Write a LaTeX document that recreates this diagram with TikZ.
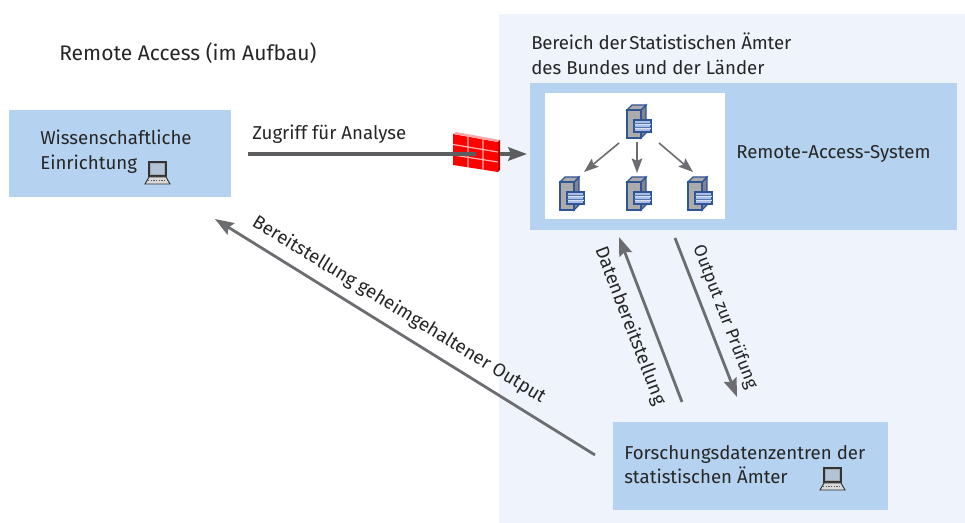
\documentclass[tikz,border=0pt]{standalone}
\usepackage{fontspec}
\setmainfont{Fira Sans}[Scale=1]
\usetikzlibrary{arrows.meta}
\definecolor{panel}{HTML}{EEF3FC}
\definecolor{boxblue}{HTML}{B5D3F0}
\definecolor{arrowgray}{HTML}{6B6D70}
\definecolor{srvgray}{HTML}{ABABAB}
\definecolor{srvdark}{HTML}{7F8490}
\definecolor{srvline}{HTML}{2F5597}
\definecolor{dbblue}{HTML}{A9BFE6}
\tikzset{
  x=0.75pt,y=-0.75pt,
  txt/.style={font=\fontsize{14}{18.5}\selectfont,text=black!85,inner sep=0pt},
  txtl/.style={txt,anchor=west,align=left},
  boxnode/.style={fill=boxblue,draw=none,inner sep=0pt,anchor=north west},
  flow/.style={draw=arrowgray,line width=2.1pt,-{Stealth[length=14pt,width=10pt,inset=2pt]}},
  small/.style={draw=arrowgray,line width=1.2pt,-{Stealth[length=11pt,width=8pt,inset=2pt]}},
  server/.pic={
    \filldraw[fill=srvdark,draw=srvline,line width=0.8pt] (14,5)--(19,0)--(19,28)--(14,33)--cycle;
    \filldraw[fill=srvgray,draw=srvline,line width=0.8pt] (0,5)--(5,0)--(19,0)--(14,5)--cycle;
    \filldraw[fill=srvgray,draw=srvline,line width=0.8pt] (0,5) rectangle (14,33);
    \filldraw[fill=dbblue,draw=srvline,line width=0.9pt] (7,15) rectangle (24,27);
    \draw[white!55!dbblue,line width=1.1pt] (7.5,19.2) -- (23.5,19.2) (7.5,23.2) -- (23.5,23.2);
    \draw[srvline!70!dbblue,line width=0.5pt] (7,18) -- (24,18) (7,22) -- (24,22);
  },
  laptop/.pic={
    \filldraw[fill=srvdark!70!white,draw=black!80,line width=0.8pt] (3,0) rectangle (20,14);
    \fill[boxblue!60!srvgray] (5,2) rectangle (18,12);
    \filldraw[fill=white!85!black,draw=black!80,line width=0.7pt] (3,15)--(20,15)--(24,22)--(-1,22)--cycle;
    \draw[black!65,line width=1pt,densely dotted] (2,18.5)--(21,18.5);
  }
}
\begin{document}
\begin{tikzpicture}
\useasboundingbox (0,0) rectangle (965,523);
\fill[white] (0,0) rectangle (965,523);
\node[boxnode,fill=panel,minimum width=349.5pt,minimum height=381.75pt] (panelbg) at (499,14) {};
\node[boxnode,minimum width=320.25pt,minimum height=110.25pt] (rasbox) at (530,83) {};
\node[boxnode,fill=white,minimum width=135pt,minimum height=94.5pt] (whitebox) at (545,93) {};
\node[boxnode,minimum width=166.5pt,minimum height=65.25pt] (wissbox) at (9,110) {};
\node[boxnode,minimum width=206.25pt,minimum height=66pt] (fdzbox) at (613,422) {};
\coordinate (access0) at (248,154);
\coordinate (access1) at (476,154);
\coordinate (access2) at (500,154);
\coordinate (access3) at (527,154);
\coordinate (rel0) at (595,455);
\coordinate (rel1) at (215,219);
\coordinate (dat0) at (682,402);
\coordinate (dat1) at (619,237);
\coordinate (out0) at (675,238);
\coordinate (out1) at (737,397);
% firewall
\fill[red] (453,134)--(498,142)--(498,172)--(453,165)--cycle;
\fill[red!35!white] (453,134)--(456,132)--(500,140)--(498,142)--cycle;
\draw[white!70!red,line width=0.9pt] (453,144.5)--(498,152) (453,155)--(498,162) (468,136)--(468,168) (483,139)--(483,170);
\fill[red!70!black] (498,142)--(500,140)--(500,170)--(498,172)--cycle;
% arrows
\draw[draw=arrowgray!85!black,line width=2.6pt] (access0)--(access1);
\draw[flow,draw=arrowgray!85!black,line width=2.6pt] (access2)--(access3);
\draw[flow] (rel0)--(rel1);
\draw[flow] (dat0)--(dat1);
\draw[flow] (out0)--(out1);
% servers
\pic at (627,105) {server};
\pic at (560,177) {server};
\pic at (627,177) {server};
\pic at (688,177) {server};
\coordinate (sa) at (619,143); \coordinate (sa1) at (584,172);
\coordinate (sb) at (637,142); \coordinate (sb1) at (637,173);
\coordinate (sc) at (659,143); \coordinate (sc1) at (693,172);
\draw[small] (sa)--(sa1);
\draw[small] (sb)--(sb1);
\draw[small] (sc)--(sc1);
\pic at (146,162) {laptop};
\pic at (821,468) {laptop};
% texts
\node[txtl,font=\fontsize{15.8}{19}\selectfont] (title) at (59,53) {Remote Access (im Aufbau)};
\node[txtl] (bereich) at (531,54) {{\addfontfeature{LetterSpace=-0.9}Bereich der\hspace{-0.12em} Statistischen Ämter}\\des Bundes und der Länder};
\node[txtl] (wiss) at (40,151.5) {Wissenschaftliche\\Einrichtung};
\node[txtl] (zugriff) at (252,134.5) {Zugriff für Analyse};
\node[txtl] (ras) at (736,153.5) {Remote-Access-System};
\node[txtl] (fdz) at (624,464.5) {Forschungsdatenzentren der\\statistischen Ämter};
\node[txt,rotate=-31.5] (relt) at (399,310) {Bereitstellung geheimgehaltener Output};
\node[txt,rotate=-69] (datt) at (630,326) {Datenbereitstellung};
\node[txt,rotate=-69,font=\fontsize{13.2}{18}\selectfont] (outt) at (725,317) {Output zur Prüfung};
\end{tikzpicture}
\end{document}
